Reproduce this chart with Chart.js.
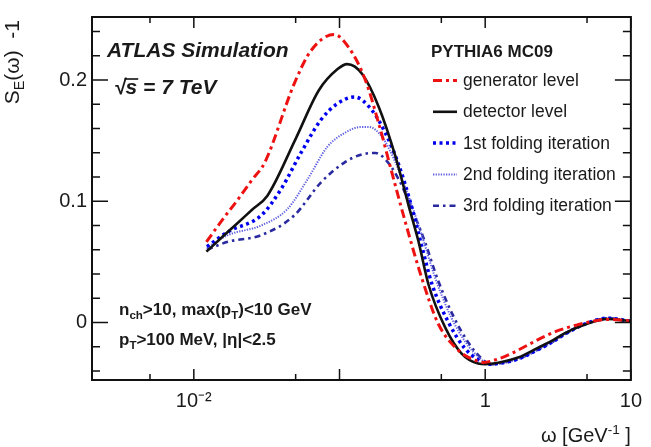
<!DOCTYPE html>
<html>
<head>
<meta charset="utf-8">
<script src="https://cdn.jsdelivr.net/npm/chart.js@4.4.0/dist/chart.umd.min.js"></script>
<style>body{margin:0;background:#fff}</style>
</head>
<body>
<canvas id="chart" width="651" height="447"></canvas>
<script>
// omega values and S_E(omega)-1
var gen_x = [0.0122, 0.016, 0.02, 0.025, 0.0306, 0.0489, 0.0635, 0.0916, 0.116, 0.151, 0.186, 0.229, 0.283, 0.367, 0.477, 0.654, 0.85, 0.97, 1.2, 1.51, 1.97, 2.56, 3.3, 4.3, 5.5, 7.0, 10];
var gen_y = [0.0665, 0.0860, 0.1012, 0.1174, 0.1317, 0.197, 0.224, 0.2376, 0.2267, 0.1995, 0.164, 0.1235, 0.0828, 0.0366, -0.0013, -0.023, -0.0312, -0.033, -0.0305, -0.0257, -0.0185, -0.0115, -0.006, -0.002, 0.001, 0.0025, 0.0012];

var det_x = [0.0122, 0.016, 0.02, 0.025, 0.032, 0.05, 0.072, 0.097, 0.113, 0.143, 0.186, 0.242, 0.298, 0.349, 0.408, 0.531, 0.689, 0.895, 1.0, 1.25, 1.68, 2.3, 2.84, 3.5, 4.79, 6.9, 10];
var det_y = [0.0584, 0.0715, 0.0821, 0.0928, 0.1046, 0.1515, 0.1914, 0.209, 0.2131, 0.205, 0.1778, 0.137, 0.0964, 0.0665, 0.0313, -0.0041, -0.0257, -0.0339, -0.0344, -0.033, -0.029, -0.021, -0.0155, -0.009, -0.002, 0.0028, 0.0012];

var iter1_x = [0.0123, 0.0171, 0.029, 0.0397, 0.0543, 0.0744, 0.0966, 0.127, 0.167, 0.207, 0.255, 0.31, 0.367, 0.43, 0.56, 0.72, 0.9, 1.05, 1.3, 1.7, 2.3, 2.9, 3.6, 4.8, 6.9, 10];
var iter1_y = [0.0625, 0.0747, 0.0883, 0.110, 0.1398, 0.167, 0.1805, 0.186, 0.175, 0.156, 0.130, 0.097, 0.063, 0.032, 0.000, -0.021, -0.031, -0.0345, -0.0335, -0.030, -0.0225, -0.016, -0.009, -0.0015, 0.0035, 0.001];

var iter2_x = [0.0123, 0.0171, 0.029, 0.044, 0.0603, 0.0826, 0.1074, 0.14, 0.16, 0.196, 0.242, 0.298, 0.367, 0.45, 0.58, 0.75, 0.93, 1.08, 1.3, 1.7, 2.3, 2.9, 3.6, 4.8, 6.9, 10];
var iter2_y = [0.0615, 0.072, 0.080, 0.0937, 0.118, 0.145, 0.156, 0.1612, 0.1612, 0.153, 0.132, 0.104, 0.072, 0.038, 0.005, -0.018, -0.030, -0.0345, -0.0335, -0.030, -0.0225, -0.016, -0.009, -0.0015, 0.0035, 0.001];

var iter3_x = [0.0123, 0.0171, 0.029, 0.0489, 0.0744, 0.1074, 0.14, 0.177, 0.207, 0.255, 0.314, 0.387, 0.47, 0.6, 0.77, 0.95, 1.1, 1.3, 1.7, 2.3, 2.9, 3.6, 4.8, 6.9, 10];
var iter3_y = [0.060, 0.0665, 0.072, 0.0883, 0.1154, 0.1317, 0.1384, 0.1398, 0.1344, 0.118, 0.0936, 0.066, 0.036, 0.006, -0.017, -0.030, -0.0345, -0.0335, -0.030, -0.0225, -0.016, -0.009, -0.0015, 0.0035, 0.001];

var series_labels = ["generator level", "detector level", "1st folding iteration", "2nd folding iteration", "3rd folding iteration"];

// axis ticks
var x_tick_vals = [0.005, 0.01, 0.05, 0.1, 0.5, 1, 5, 10];
var x_major_vals = [0.01, 0.1, 1, 10];
var x_label_vals = [0.01, 1, 10];
var x_labels = ["10\u207B\u00B2", "1", "10"];
var y_label_vals = [0, 0.1, 0.2];
var y_tick_vals = [-0.04, -0.02, 0, 0.02, 0.04, 0.06, 0.08, 0.1, 0.12, 0.14, 0.16, 0.18, 0.2, 0.22, 0.24];

var FONT = '"Liberation Sans", Arial, sans-serif';
var TXT = '#1a1a1a';

function pts(xs, ys) {
    return xs.map(function (x, i) { return {x: x, y: ys[i]}; });
}

// draw text pieces with sub/superscripts, returns width
function richText(ctx, x, y, parts, size, style, draw) {
    var cx = x;
    parts.forEach(function (p) {
        var s = p[1] ? size * 0.68 : size;
        ctx.font = style + ' ' + s + 'px ' + FONT;
        var dy = p[1] == 'sub' ? size * 0.25 : (p[1] == 'sup' ? -size * 0.38 : 0);
        if (draw) ctx.fillText(p[0], cx, y + dy);
        cx += ctx.measureText(p[0]).width;
    });
    return cx - x;
}

var framePlugin = {
    id: 'frame',
    afterDatasetsDraw: function (chart) {
        var ctx = chart.ctx;
        var a = chart.chartArea;
        var sx = chart.scales.x;
        var sy = chart.scales.y;
        ctx.save();
        ctx.strokeStyle = '#111';
        ctx.lineWidth = 1.5;
        ctx.setLineDash([]);
        ctx.beginPath();
        x_tick_vals.forEach(function (v) {
            var px = sx.getPixelForValue(v);
            var len = x_major_vals.indexOf(v) >= 0 ? 11 : 6;
            ctx.moveTo(px, a.bottom); ctx.lineTo(px, a.bottom - len);
            ctx.moveTo(px, a.top); ctx.lineTo(px, a.top + len);
        });
        y_tick_vals.forEach(function (v) {
            var py = sy.getPixelForValue(v);
            var len = y_label_vals.indexOf(v) >= 0 ? 16 : 8;
            ctx.moveTo(a.left, py); ctx.lineTo(a.left + len, py);
            ctx.moveTo(a.right, py); ctx.lineTo(a.right - len, py);
        });
        ctx.stroke();
        ctx.lineWidth = 2;
        ctx.strokeRect(a.left, a.top, a.right - a.left, a.bottom - a.top);

        ctx.fillStyle = TXT;
        ctx.textBaseline = 'alphabetic';
        ctx.textAlign = 'left';

        // ATLAS label
        ctx.font = 'italic bold 21px ' + FONT;
        ctx.fillText('ATLAS Simulation', 107, 57);
        ctx.fillText('\u221A', 114, 94);
        var sqw = ctx.measureText('\u221A').width;
        ctx.fillText('s', 114 + sqw, 94);
        var sw = ctx.measureText('s').width;
        ctx.beginPath();
        ctx.lineWidth = 1.6;
        ctx.moveTo(114 + sqw - 1, 79);
        ctx.lineTo(114 + sqw + sw + 1, 79);
        ctx.stroke();
        ctx.fillText(' = 7 TeV', 114 + sqw + sw, 94);

        // cuts
        richText(ctx, 119, 315, [['n', ''], ['ch', 'sub'], ['>10, max(p', ''], ['T', 'sub'], [')<10 GeV', '']], 17, 'bold', true);
        richText(ctx, 119, 345, [['p', ''], ['T', 'sub'], ['>100 MeV, |\u03B7|<2.5', '']], 17, 'bold', true);

        // legend
        ctx.font = 'bold 17px ' + FONT;
        ctx.fillText('PYTHIA6 MC09', 431, 57);
        chart.data.datasets.forEach(function (ds, i) {
            var base = 86 + i * 31.3;
            ctx.save();
            ctx.strokeStyle = ds.borderColor;
            ctx.lineWidth = ds.borderWidth;
            ctx.setLineDash(ds.borderDash || []);
            ctx.beginPath();
            ctx.moveTo(433, base - 5.5);
            ctx.lineTo(457, base - 5.5);
            ctx.stroke();
            ctx.restore();
            ctx.font = '17.5px ' + FONT;
            ctx.fillText(ds.label, 463, base);
        });

        // x title, right aligned to the frame
        var xt = [['\u03C9 [GeV', ''], ['-1', 'sup'], [' ]', '']];
        var w = richText(ctx, 0, 0, xt, 20, 'normal', false);
        richText(ctx, a.right - w, 442, xt, 20, 'normal', true);

        // y title, rotated, ending at top of frame
        var yt = [['S', ''], ['E', 'sub'], ['(\u03C9)  -1', '']];
        var yw = richText(ctx, 0, 0, yt, 21, 'normal', false);
        ctx.translate(19, a.top + 3);
        ctx.rotate(-Math.PI / 2);
        richText(ctx, -yw, 0, yt, 21, 'normal', true);
        ctx.restore();
    }
};

var myChart = new Chart(document.getElementById("chart"), {
    type: 'line',
    data: {
        datasets: [{
            label: series_labels[0],
            data: pts(gen_x, gen_y),
            borderColor: '#ee1111',
            borderWidth: 3,
            borderDash: [9, 4, 3, 4]
        }, {
            label: series_labels[1],
            data: pts(det_x, det_y),
            borderColor: '#111111',
            borderWidth: 2.6
        }, {
            label: series_labels[2],
            data: pts(iter1_x, iter1_y),
            borderColor: '#0000ee',
            borderWidth: 3.5,
            borderDash: [3, 3.5]
        }, {
            label: series_labels[3],
            data: pts(iter2_x, iter2_y),
            borderColor: '#6060e0',
            borderWidth: 2,
            borderDash: [1.3, 1.3]
        }, {
            label: series_labels[4],
            data: pts(iter3_x, iter3_y),
            borderColor: '#2a2aa0',
            borderWidth: 2.6,
            borderDash: [6, 4, 2.5, 4]
        }]
    },
    options: {
        responsive: false,
        animation: false,
        devicePixelRatio: 1,
        layout: { padding: { left: 0, right: 18, top: 12, bottom: 0 } },
        elements: {
            point: { radius: 0 },
            line: { cubicInterpolationMode: 'monotone', fill: false }
        },
        plugins: {
            legend: { display: false },
            tooltip: { enabled: false }
        },
        scales: {
            x: {
                type: 'logarithmic',
                min: 0.002,
                max: 10,
                afterBuildTicks: function (scale) {
                    scale.ticks = x_tick_vals.map(function (v) { return {value: v}; });
                },
                afterFit: function (scale) { scale.height = 67; },
                grid: { display: false, drawTicks: false },
                border: { display: false },
                ticks: {
                    autoSkip: false,
                    maxRotation: 0,
                    padding: 9,
                    color: TXT,
                    font: { family: FONT, size: 20 },
                    callback: function (v) {
                        var i = x_label_vals.indexOf(v);
                        return i < 0 ? '' : x_labels[i];
                    }
                }
            },
            y: {
                min: -0.0475,
                max: 0.252,
                afterBuildTicks: function (scale) {
                    scale.ticks = y_label_vals.map(function (v) { return {value: v}; });
                },
                afterFit: function (scale) { scale.width = 92; },
                grid: { display: false, drawTicks: false },
                border: { display: false },
                ticks: {
                    autoSkip: false,
                    padding: 5,
                    color: TXT,
                    font: { family: FONT, size: 20 },
                    callback: function (v) { return v === 0 ? '0' : v.toFixed(1); }
                }
            }
        }
    },
    plugins: [framePlugin]
});
</script>
</body>
</html>
